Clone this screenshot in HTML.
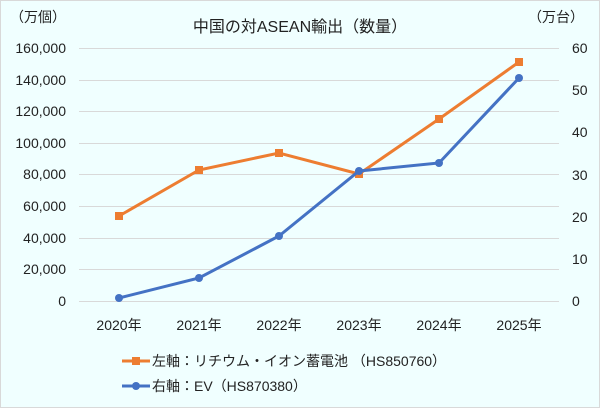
<!DOCTYPE html>
<html><head><meta charset="utf-8"><style>
body{margin:0;background:#fff}
svg{display:block}
text{font-family:"Liberation Sans","Noto Sans CJK JP",sans-serif;fill:#222}
</style></head><body>
<svg width="600" height="408" viewBox="0 0 600 408">
<rect x="0.5" y="0.5" width="599" height="407" fill="#F0FFFF" stroke="#d9d9d9"/>
<text x="300" y="32" font-size="16" text-anchor="middle">中国の対ASEAN輸出（数量）</text>
<text x="38" y="22" font-size="14" text-anchor="middle">（万個）</text>
<text x="556" y="22" font-size="14" text-anchor="middle">（万台）</text>
<g stroke="#d9d9d9" stroke-width="1">
<line x1="79" x2="559" y1="48.5" y2="48.5"/><line x1="79" x2="559" y1="80.5" y2="80.5"/>
<line x1="79" x2="559" y1="111.5" y2="111.5"/><line x1="79" x2="559" y1="143.5" y2="143.5"/>
<line x1="79" x2="559" y1="174.5" y2="174.5"/><line x1="79" x2="559" y1="206.5" y2="206.5"/>
<line x1="79" x2="559" y1="238.5" y2="238.5"/><line x1="79" x2="559" y1="269.5" y2="269.5"/>
<line x1="79" x2="559" y1="301.5" y2="301.5"/>
</g>
<g font-size="14" text-anchor="end">
<text x="66" y="53">160,000</text><text x="66" y="85">140,000</text><text x="66" y="116">120,000</text>
<text x="66" y="148">100,000</text><text x="66" y="179">80,000</text><text x="66" y="211">60,000</text>
<text x="66" y="243">40,000</text><text x="66" y="274">20,000</text><text x="66" y="306">0</text>
</g>
<g font-size="14" text-anchor="start">
<text x="572" y="53">60</text><text x="572" y="95">50</text><text x="572" y="137">40</text>
<text x="572" y="180">30</text><text x="572" y="222">20</text><text x="572" y="264">10</text>
<text x="572" y="306">0</text>
</g>
<g font-size="14" text-anchor="middle">
<text x="119" y="330">2020年</text><text x="199" y="330">2021年</text><text x="279" y="330">2022年</text>
<text x="359" y="330">2023年</text><text x="439" y="330">2024年</text><text x="519" y="330">2025年</text>
</g>
<polyline points="119,216 199,170 279,153 359,174 439,119 519,62" fill="none" stroke="#ED7D31" stroke-width="3"/>
<g fill="#ED7D31"><rect x="115" y="212" width="8" height="8"/><rect x="195" y="166" width="8" height="8"/><rect x="275" y="149" width="8" height="8"/><rect x="355" y="170" width="8" height="8"/><rect x="435" y="115" width="8" height="8"/><rect x="515" y="58" width="8" height="8"/></g>
<polyline points="119,298 199,278 279,236 359,171 439,163 519,78" fill="none" stroke="#4472C4" stroke-width="3"/>
<g fill="#4472C4"><circle cx="119" cy="298" r="4"/><circle cx="199" cy="278" r="4"/><circle cx="279" cy="236" r="4"/><circle cx="359" cy="171" r="4"/><circle cx="439" cy="163" r="4"/><circle cx="519" cy="78" r="4"/></g>
<line x1="122" x2="150" y1="361" y2="361" stroke="#ED7D31" stroke-width="3"/><rect x="132" y="357" width="8" height="8" fill="#ED7D31"/>
<text x="152" y="366" font-size="14">左軸：リチウム・イオン蓄電池 （HS850760）</text>
<line x1="122" x2="150" y1="386" y2="386" stroke="#4472C4" stroke-width="3"/><circle cx="136" cy="386" r="4" fill="#4472C4"/>
<text x="152" y="391" font-size="14">右軸：EV（HS870380）</text>
</svg>
</body></html>
